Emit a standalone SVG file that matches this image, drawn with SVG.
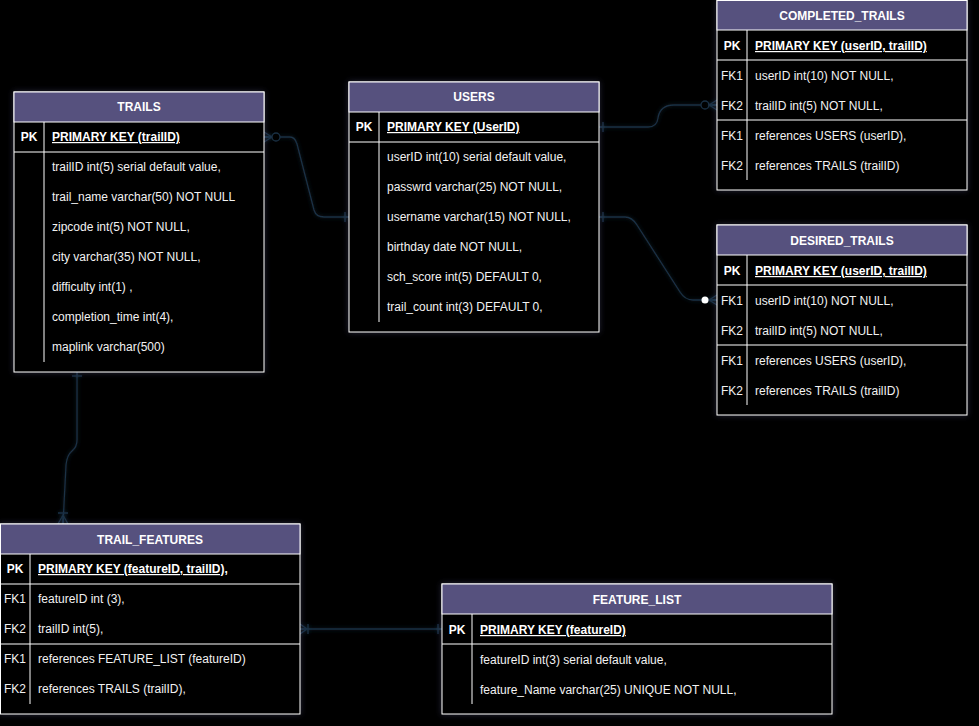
<svg xmlns="http://www.w3.org/2000/svg" width="979" height="726" viewBox="0 0 979 726">
<defs>
<filter id="glow" x="-10%" y="-10%" width="120%" height="120%">
<feDropShadow dx="0" dy="0" stdDeviation="3" flood-color="#6a6aa8" flood-opacity="0.35"/>
</filter>
<filter id="eglow" filterUnits="userSpaceOnUse" x="0" y="0" width="979" height="726">
<feDropShadow dx="0" dy="0" stdDeviation="2" flood-color="#2a4a66" flood-opacity="0.5"/>
</filter>
</defs>
<style>
.box{fill:#000;stroke:#ffffff;stroke-width:1;filter:url(#glow)}
.hdr{fill:#56517e;stroke:#ffffff;stroke-width:1}
.ln{stroke:#ffffff;stroke-width:1;fill:none}
.t{font-family:"Liberation Sans",Arial,sans-serif;font-size:12px;fill:#f2f2f2}
.h{font-family:"Liberation Sans",Arial,sans-serif;font-size:12px;font-weight:bold;fill:#ffffff;text-anchor:middle}
.k{font-family:"Liberation Sans",Arial,sans-serif;font-size:12px;font-weight:bold;fill:#ffffff;text-anchor:middle}
.f{font-family:"Liberation Sans",Arial,sans-serif;font-size:12px;fill:#f2f2f2;text-anchor:middle}
.pk{font-family:"Liberation Sans",Arial,sans-serif;font-size:12px;font-weight:bold;fill:#ffffff;text-decoration:underline}
.e{stroke:#1a3044;stroke-width:1.3;fill:none;filter:url(#eglow)}
.ec{stroke:#1a3044;stroke-width:1.3;fill:#000}
</style>
<rect width="979" height="726" fill="#000"/>

<g id="edges">
<!-- TRAILS -> USERS -->
<path class="e" d="M264,137 H290 Q295,137 297,144 L314,210 Q316,217 324,217 H349"/>
<path class="e" d="M264,132 L272,137 L264,142 M264,137 H272"/>
<circle class="ec" cx="276" cy="137" r="4"/>
<path class="e" d="M345,212 V222"/>
<!-- USERS -> COMPLETED_TRAILS -->
<path class="e" d="M599,127 H648 Q657,127 658,118 Q660,105 674,105 H717"/>
<path class="e" d="M603,122 V132"/>
<circle class="ec" cx="705" cy="105" r="4"/>
<path class="e" d="M717,100 L709,105 L717,110 M709,105 H717"/>
<!-- USERS -> DESIRED_TRAILS -->
<path class="e" d="M599,217 H625 Q632,217 637,225 L680,292 Q685,300 693,300 H717"/>
<path class="e" d="M603,212 V222"/>
<path class="e" d="M717,295 L709,300 L717,305 M709,300 H717"/>
<circle cx="705" cy="300" r="3.5" fill="#ffffff"/>
<!-- TRAILS -> TRAIL_FEATURES -->
<path class="e" d="M77,372 V440 Q77,447 72,451 Q67,455 66,465 L63,524"/>
<path class="e" d="M72,376 H82"/>
<path class="e" d="M58,524 L63,515 L68,524 M63,515 V524 M58,513 H68"/>
<!-- TRAIL_FEATURES -> FEATURE_LIST -->
<path class="e" d="M300,629 H442"/>
<path class="e" d="M300,624 L307,629 L300,634 M308,624 V634"/>
<path class="e" d="M438,624 V634"/>
</g>

<g id="TRAILS">
<rect class="box" x="14" y="92" width="250" height="280"/>
<rect class="hdr" x="14" y="92" width="250" height="30"/>
<text class="h" x="139" y="111">TRAILS</text>
<line class="ln" x1="14" y1="152" x2="264" y2="152"/>
<line class="ln" x1="44" y1="122" x2="44" y2="362"/>
<text class="k" x="29" y="141">PK</text>
<text class="pk" x="52" y="141">PRIMARY KEY (trailID)</text>
<text class="t" x="52" y="171">trailID int(5) serial default value,</text>
<text class="t" x="52" y="201">trail_name varchar(50) NOT NULL</text>
<text class="t" x="52" y="231">zipcode int(5) NOT NULL,</text>
<text class="t" x="52" y="261">city varchar(35) NOT NULL,</text>
<text class="t" x="52" y="291">difficulty int(1) ,</text>
<text class="t" x="52" y="321">completion_time int(4),</text>
<text class="t" x="52" y="351">maplink varchar(500)</text>
</g>

<g id="USERS">
<rect class="box" x="349" y="82" width="250" height="250"/>
<rect class="hdr" x="349" y="82" width="250" height="30"/>
<text class="h" x="474" y="101">USERS</text>
<line class="ln" x1="349" y1="142" x2="599" y2="142"/>
<line class="ln" x1="379" y1="112" x2="379" y2="322"/>
<text class="k" x="364" y="131">PK</text>
<text class="pk" x="387" y="131">PRIMARY KEY (UserID)</text>
<text class="t" x="387" y="161">userID int(10) serial default value,</text>
<text class="t" x="387" y="191">passwrd varchar(25) NOT NULL,</text>
<text class="t" x="387" y="221">username varchar(15) NOT NULL,</text>
<text class="t" x="387" y="251">birthday date NOT NULL,</text>
<text class="t" x="387" y="281">sch_score int(5) DEFAULT 0,</text>
<text class="t" x="387" y="311">trail_count int(3) DEFAULT 0,</text>
</g>

<g id="COMPLETED_TRAILS">
<rect class="box" x="717" y="0.5" width="250" height="189.5"/>
<rect class="hdr" x="717" y="0.5" width="250" height="29.5"/>
<text class="h" x="842" y="20">COMPLETED_TRAILS</text>
<line class="ln" x1="717" y1="60" x2="967" y2="60"/>
<line class="ln" x1="717" y1="120" x2="967" y2="120"/>
<line class="ln" x1="747" y1="30" x2="747" y2="180"/>
<text class="k" x="732" y="50">PK</text>
<text class="pk" x="755" y="50">PRIMARY KEY (userID, trailID)</text>
<text class="f" x="732" y="80">FK1</text>
<text class="t" x="755" y="80">userID int(10) NOT NULL,</text>
<text class="f" x="732" y="110">FK2</text>
<text class="t" x="755" y="110">trailID int(5) NOT NULL,</text>
<text class="f" x="732" y="140">FK1</text>
<text class="t" x="755" y="140">references USERS (userID),</text>
<text class="f" x="732" y="170">FK2</text>
<text class="t" x="755" y="170">references TRAILS (trailID)</text>
</g>

<g id="DESIRED_TRAILS">
<rect class="box" x="717" y="225" width="250" height="190"/>
<rect class="hdr" x="717" y="225" width="250" height="30"/>
<text class="h" x="842" y="245">DESIRED_TRAILS</text>
<line class="ln" x1="717" y1="285" x2="967" y2="285"/>
<line class="ln" x1="717" y1="345" x2="967" y2="345"/>
<line class="ln" x1="747" y1="255" x2="747" y2="405"/>
<text class="k" x="732" y="275">PK</text>
<text class="pk" x="755" y="275">PRIMARY KEY (userID, trailID)</text>
<text class="f" x="732" y="305">FK1</text>
<text class="t" x="755" y="305">userID int(10) NOT NULL,</text>
<text class="f" x="732" y="335">FK2</text>
<text class="t" x="755" y="335">trailID int(5) NOT NULL,</text>
<text class="f" x="732" y="365">FK1</text>
<text class="t" x="755" y="365">references USERS (userID),</text>
<text class="f" x="732" y="395">FK2</text>
<text class="t" x="755" y="395">references TRAILS (trailID)</text>
</g>

<g id="TRAIL_FEATURES">
<rect class="box" x="0.5" y="524" width="299.5" height="190"/>
<rect class="hdr" x="0.5" y="524" width="299.5" height="30"/>
<text class="h" x="150" y="544">TRAIL_FEATURES</text>
<line class="ln" x1="0" y1="584" x2="300" y2="584"/>
<line class="ln" x1="0" y1="644" x2="300" y2="644"/>
<line class="ln" x1="30" y1="554" x2="30" y2="704"/>
<text class="k" x="15" y="573">PK</text>
<text class="pk" x="38" y="573">PRIMARY KEY (featureID, trailID),</text>
<text class="f" x="15" y="603">FK1</text>
<text class="t" x="38" y="603">featureID int (3),</text>
<text class="f" x="15" y="633">FK2</text>
<text class="t" x="38" y="633">trailID int(5),</text>
<text class="f" x="15" y="663">FK1</text>
<text class="t" x="38" y="663">references FEATURE_LIST (featureID)</text>
<text class="f" x="15" y="693">FK2</text>
<text class="t" x="38" y="693">references TRAILS (trailID),</text>
</g>

<g id="FEATURE_LIST">
<rect class="box" x="442" y="584" width="390" height="130"/>
<rect class="hdr" x="442" y="584" width="390" height="30"/>
<text class="h" x="637" y="604">FEATURE_LIST</text>
<line class="ln" x1="442" y1="644" x2="832" y2="644"/>
<line class="ln" x1="472" y1="614" x2="472" y2="704"/>
<text class="k" x="457" y="634">PK</text>
<text class="pk" x="480" y="634">PRIMARY KEY (featureID)</text>
<text class="t" x="480" y="664">featureID int(3) serial default value,</text>
<text class="t" x="480" y="694">feature_Name varchar(25) UNIQUE NOT NULL,</text>
</g>
</svg>
